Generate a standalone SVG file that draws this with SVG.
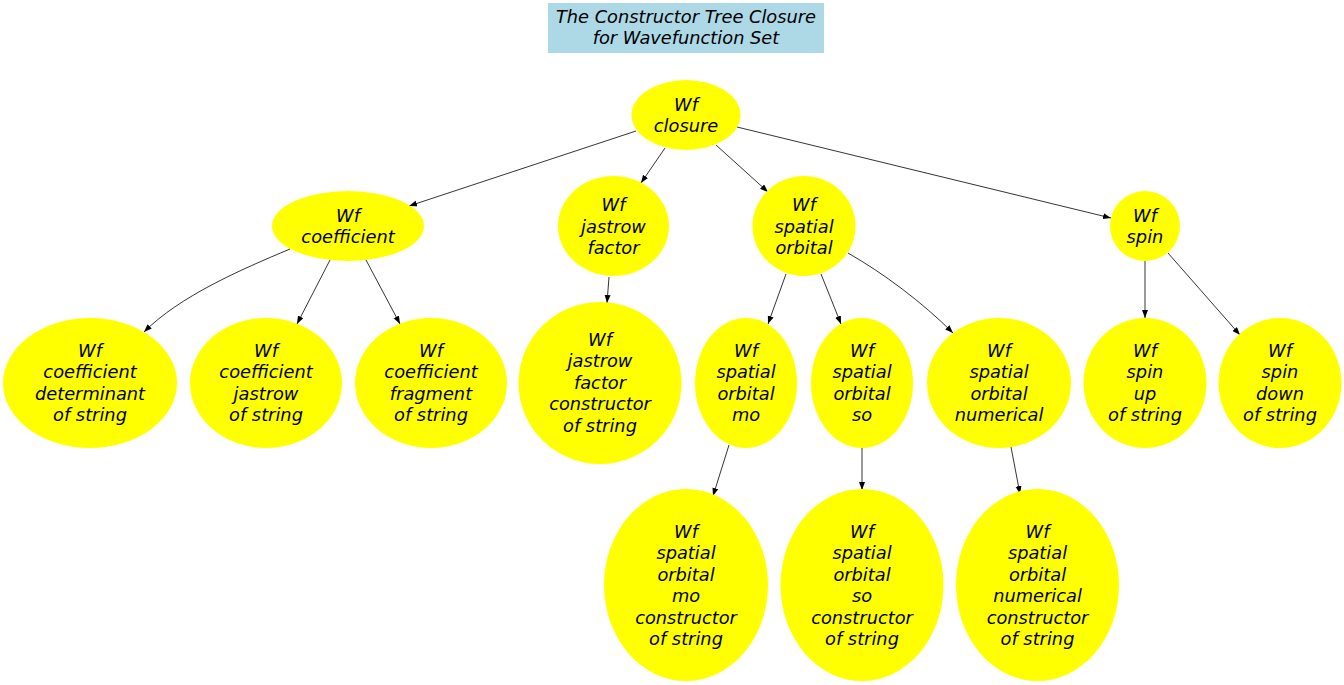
<svg xmlns="http://www.w3.org/2000/svg" width="1344" height="685" viewBox="0 0 1344 685">
<style>
text{font-family:"DejaVu Sans","Liberation Sans",sans-serif;font-style:italic;font-size:17.8px;fill:#000;text-anchor:middle}
.n ellipse{fill:#ffff00;stroke:none}
.e path{fill:none;stroke:#000;stroke-width:0.8}
</style>
<defs>
<marker id="ah" markerUnits="userSpaceOnUse" markerWidth="10" markerHeight="8" refX="8" refY="3" orient="auto">
<path d="M0,0 L8,3 L0,6 Z" fill="#000"/>
</marker>
</defs>
<rect width="1344" height="685" fill="#fff"/>
<g id="title">
<rect x="548" y="3" width="276" height="50" fill="#add8e6"/>
<text x="686" y="22.5">The Constructor Tree Closure</text>
<text x="686" y="44">for Wavefunction Set</text>
</g>
<g id="edges" class="e">
<path d="M636,131 L409,206" marker-end="url(#ah)"/>
<path d="M665,148 L641,183" marker-end="url(#ah)"/>
<path d="M716,145 L768,192" marker-end="url(#ah)"/>
<path d="M737,127 L1111,218" marker-end="url(#ah)"/>
<path d="M290,249 C240,270 180,296 144,332" marker-end="url(#ah)"/>
<path d="M330,260 L297,324" marker-end="url(#ah)"/>
<path d="M366,260 L400,324" marker-end="url(#ah)"/>
<path d="M609,277 L607,303" marker-end="url(#ah)"/>
<path d="M786,274 L768,324" marker-end="url(#ah)"/>
<path d="M821,274 L841,324" marker-end="url(#ah)"/>
<path d="M848,253 C883,273 922,302 953,333" marker-end="url(#ah)"/>
<path d="M729,445 L713,496" marker-end="url(#ah)"/>
<path d="M862,448 L862,490" marker-end="url(#ah)"/>
<path d="M1011,447 L1020,494" marker-end="url(#ah)"/>
<path d="M1145,261 L1145,318" marker-end="url(#ah)"/>
<path d="M1168,253 L1240,335" marker-end="url(#ah)"/>
</g>
<g id="closure" class="n"><ellipse cx="686" cy="115" rx="54.5" ry="35"/><text x="686" y="110.5">Wf</text><text x="686" y="132">closure</text></g>
<g id="coefficient" class="n"><ellipse cx="348" cy="226" rx="76" ry="35"/><text x="348" y="221.5">Wf</text><text x="348" y="243">coefficient</text></g>
<g id="jastrow_factor" class="n"><ellipse cx="613.5" cy="226" rx="55.5" ry="50"/><text x="613.5" y="211">Wf</text><text x="613.5" y="232.5">jastrow</text><text x="613.5" y="254">factor</text></g>
<g id="spatial_orbital" class="n"><ellipse cx="804" cy="226" rx="51.5" ry="50"/><text x="804" y="211">Wf</text><text x="804" y="232.5">spatial</text><text x="804" y="254">orbital</text></g>
<g id="spin" class="n"><ellipse cx="1145" cy="226" rx="35" ry="35"/><text x="1145" y="221.5">Wf</text><text x="1145" y="243">spin</text></g>
<g id="coef_det" class="n"><ellipse cx="90" cy="383" rx="87" ry="65"/><text x="90" y="356.5">Wf</text><text x="90" y="378">coefficient</text><text x="90" y="399.5">determinant</text><text x="90" y="421">of string</text></g>
<g id="coef_jastrow" class="n"><ellipse cx="266" cy="383" rx="76" ry="65"/><text x="266" y="356.5">Wf</text><text x="266" y="378">coefficient</text><text x="266" y="399.5">jastrow</text><text x="266" y="421">of string</text></g>
<g id="coef_fragment" class="n"><ellipse cx="431" cy="383" rx="76" ry="65"/><text x="431" y="356.5">Wf</text><text x="431" y="378">coefficient</text><text x="431" y="399.5">fragment</text><text x="431" y="421">of string</text></g>
<g id="jastrow_ctor" class="n"><ellipse cx="600" cy="383" rx="81.5" ry="81"/><text x="600" y="345.5">Wf</text><text x="600" y="367">jastrow</text><text x="600" y="388.5">factor</text><text x="600" y="410">constructor</text><text x="600" y="431.5">of string</text></g>
<g id="so_mo" class="n"><ellipse cx="746" cy="383" rx="51" ry="65"/><text x="746" y="356.5">Wf</text><text x="746" y="378">spatial</text><text x="746" y="399.5">orbital</text><text x="746" y="421">mo</text></g>
<g id="so_so" class="n"><ellipse cx="862" cy="383" rx="51" ry="65"/><text x="862" y="356.5">Wf</text><text x="862" y="378">spatial</text><text x="862" y="399.5">orbital</text><text x="862" y="421">so</text></g>
<g id="so_numerical" class="n"><ellipse cx="999" cy="383" rx="72" ry="65"/><text x="999" y="356.5">Wf</text><text x="999" y="378">spatial</text><text x="999" y="399.5">orbital</text><text x="999" y="421">numerical</text></g>
<g id="spin_up" class="n"><ellipse cx="1145" cy="383" rx="61.5" ry="65"/><text x="1145" y="356.5">Wf</text><text x="1145" y="378">spin</text><text x="1145" y="399.5">up</text><text x="1145" y="421">of string</text></g>
<g id="spin_down" class="n"><ellipse cx="1280" cy="383" rx="61.5" ry="65"/><text x="1280" y="356.5">Wf</text><text x="1280" y="378">spin</text><text x="1280" y="399.5">down</text><text x="1280" y="421">of string</text></g>
<g id="mo_ctor" class="n"><ellipse cx="686" cy="585" rx="82" ry="96"/><text x="686" y="537.5">Wf</text><text x="686" y="559">spatial</text><text x="686" y="580.5">orbital</text><text x="686" y="602">mo</text><text x="686" y="623.5">constructor</text><text x="686" y="645">of string</text></g>
<g id="so_ctor" class="n"><ellipse cx="862" cy="585" rx="81.5" ry="96"/><text x="862" y="537.5">Wf</text><text x="862" y="559">spatial</text><text x="862" y="580.5">orbital</text><text x="862" y="602">so</text><text x="862" y="623.5">constructor</text><text x="862" y="645">of string</text></g>
<g id="numerical_ctor" class="n"><ellipse cx="1037.5" cy="585" rx="81.5" ry="96"/><text x="1037.5" y="537.5">Wf</text><text x="1037.5" y="559">spatial</text><text x="1037.5" y="580.5">orbital</text><text x="1037.5" y="602">numerical</text><text x="1037.5" y="623.5">constructor</text><text x="1037.5" y="645">of string</text></g>
</svg>
